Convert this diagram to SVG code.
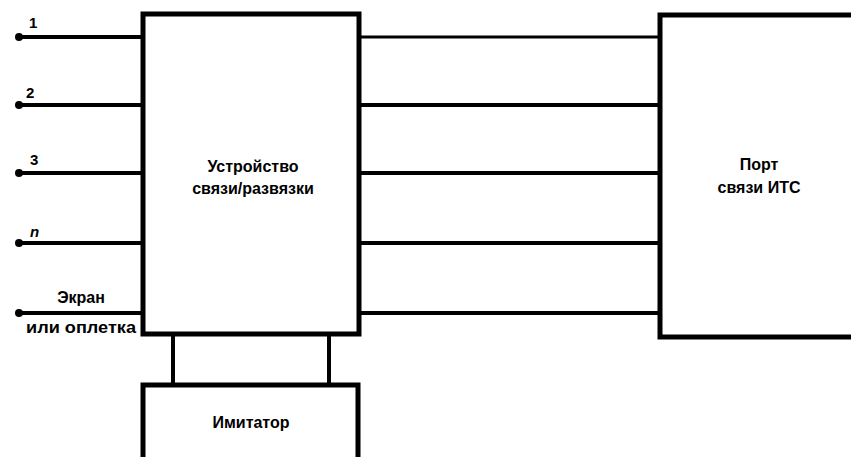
<svg xmlns="http://www.w3.org/2000/svg" width="851" height="457" viewBox="0 0 851 457">
<style>
.box{fill:#fff;stroke:#000;stroke-width:5}
.ln{stroke:#000;stroke-width:4;fill:none}
.t{font-family:"Liberation Sans",Arial,sans-serif;font-weight:bold;font-size:16px;fill:#000;text-anchor:middle}
.s{font-family:"Liberation Sans",Arial,sans-serif;font-weight:bold;font-size:15px;fill:#000}
</style>
<rect width="851" height="457" fill="#fff"/>
<g id="connectors">
<line class="ln" x1="18" y1="37" x2="145" y2="37"/>
<line class="ln" x1="18" y1="105" x2="145" y2="105"/>
<line class="ln" x1="18" y1="173" x2="145" y2="173"/>
<line class="ln" x1="18" y1="243" x2="145" y2="243"/>
<line class="ln" x1="18" y1="313" x2="145" y2="313"/>
<line class="ln" x1="359" y1="37" x2="660" y2="37" style="stroke-width:3"/>
<line class="ln" x1="359" y1="105" x2="660" y2="105"/>
<line class="ln" x1="359" y1="173" x2="660" y2="173"/>
<line class="ln" x1="359" y1="243" x2="660" y2="243"/>
<line class="ln" x1="359" y1="313" x2="660" y2="313"/>
<line class="ln" x1="173" y1="334" x2="173" y2="385"/>
<line class="ln" x1="329" y1="334" x2="329" y2="385"/>
<circle cx="19" cy="37" r="4"/>
<circle cx="19" cy="105" r="4"/>
<circle cx="19" cy="173" r="4"/>
<circle cx="19" cy="243" r="4"/>
<circle cx="19" cy="313" r="4"/>
<text class="s" x="29" y="28">1</text>
<text class="s" x="26" y="98">2</text>
<text class="s" x="30" y="165">3</text>
<text class="s" x="30" y="237" font-style="italic">n</text>
<text class="t" x="81" y="303" font-size="14">Экран</text>
<text class="t" x="81" y="333" font-size="14" textLength="110" lengthAdjust="spacingAndGlyphs">или оплетка</text>
</g>
<g id="cdn">
<rect class="box" x="143" y="14" width="216" height="320"/>
<text class="t" x="253" y="172">Устройство</text>
<text class="t" x="253" y="194">связи/развязки</text>
</g>
<g id="port">
<rect class="box" x="660" y="15" width="200" height="322"/>
<text class="t" x="759" y="170">Порт</text>
<text class="t" x="759" y="193">связи ИТС</text>
</g>
<g id="simulator">
<rect class="box" x="143" y="385" width="215" height="80"/>
<text class="t" x="251" y="428">Имитатор</text>
</g>
</svg>
